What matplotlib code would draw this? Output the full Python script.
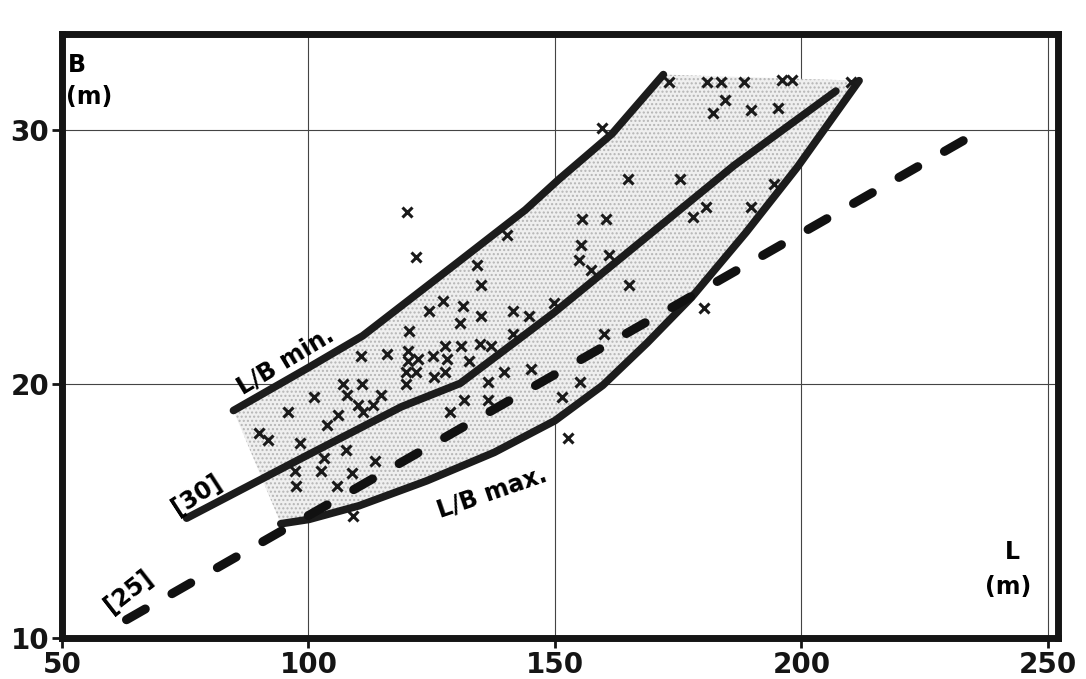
"""Ship length vs beam scatter with L/B bounds, redrawn from a scanned figure."""
import matplotlib
matplotlib.use("Agg")
import matplotlib.font_manager as fm
import matplotlib.pyplot as plt
import numpy as np

# pick a narrow bold face if the box has one, else DejaVu
_font = "DejaVu Sans"
_names = {f.name for f in fm.fontManager.ttflist}
for name in ["Liberation Sans Narrow", "DejaVu Sans"]:
    if name in _names:
        _font = name
        break
plt.rcParams["font.family"] = [_font, "DejaVu Sans"]
plt.rcParams["font.weight"] = "bold"

# ships (L, B) in metres
ship_L = [110.6, 116.0, 107.1, 110.8, 114.8, 107.9, 110.1, 113.1, 111.0, 101.2,
          106.1, 103.7, 95.8, 89.9, 91.9, 98.2, 107.7, 103.2, 113.6, 97.2,
          102.5, 108.8, 97.4, 105.7, 109.0, 120.1, 121.8, 140.2, 134.2, 135.1,
          127.4, 131.3, 124.5, 135.0, 130.7, 141.6, 144.7, 149.8, 120.4, 141.5,
          120.3, 120.3, 122.3, 125.2, 127.8, 128.2, 131.0, 132.6, 134.8, 137.1,
          119.8, 119.8, 121.9, 125.4, 127.7, 136.5, 139.7, 145.1, 136.4, 131.5,
          128.7, 159.9, 155.1, 151.5, 152.7, 157.3, 165.0, 180.2, 164.9, 175.4,
          155.4, 160.3, 155.3, 154.9, 160.9, 178.0, 180.7, 189.7, 194.4, 173.2,
          180.8, 183.6, 188.3, 196.1, 198.0, 210.1, 184.6, 182.1, 189.8, 195.2,
          159.6]
ship_B = [21.1, 21.2, 20.0, 20.0, 19.6, 19.6, 19.2, 19.2, 18.9, 19.5,
          18.8, 18.4, 18.9, 18.1, 17.8, 17.7, 17.4, 17.1, 17.0, 16.6,
          16.6, 16.5, 16.0, 16.0, 14.8, 26.8, 25.0, 25.9, 24.7, 23.9,
          23.3, 23.1, 22.9, 22.7, 22.4, 22.9, 22.7, 23.2, 22.1, 22.0,
          21.3, 20.9, 21.0, 21.1, 21.5, 21.0, 21.5, 20.9, 21.6, 21.5,
          20.5, 20.0, 20.5, 20.3, 20.5, 20.1, 20.5, 20.6, 19.4, 19.4,
          18.9, 22.0, 20.1, 19.5, 17.9, 24.5, 23.9, 23.0, 28.1, 28.1,
          26.5, 26.5, 25.5, 24.9, 25.1, 26.6, 27.0, 27.0, 27.9, 31.9,
          31.9, 31.9, 31.9, 32.0, 32.0, 31.9, 31.2, 30.7, 30.8, 30.9,
          30.1]

# L/B min. boundary
lbmin_L = [84.8, 100.1, 111.0, 129.6, 144.0, 150.9, 161.6, 172.0]
lbmin_B = [18.97, 20.67, 21.91, 24.70, 26.87, 28.09, 29.87, 32.20]

# [30] line
l30_L = [75.3, 99.7, 118.9, 130.8, 149.8, 186.4, 207.0]
l30_B = [14.73, 17.20, 19.12, 20.04, 22.82, 28.63, 31.55]

# L/B max. boundary
lbmax_L = [94.4, 100.1, 110.3, 124.0, 137.7, 150.0, 159.7, 168.7, 177.7, 188.8, 199.2, 211.7]
lbmax_B = [14.51, 14.68, 15.22, 16.20, 17.32, 18.57, 19.96, 21.63, 23.42, 25.99, 28.56, 31.96]

# [25] dashed line
l25_L = [63.1, 237.7]
l25_B = [10.73, 30.14]

x_ticks = [50, 100, 150, 200, 250]
y_ticks = [10, 20, 30]

fig = plt.figure(figsize=(10.86, 6.79), dpi=100)
ax = fig.add_axes([0.057, 0.060, 0.917, 0.890])
ax.set_xlim(50, 252)
ax.set_ylim(10, 33.8)

# stippled band between the two bounds
band_L = np.r_[lbmin_L, lbmax_L[::-1]]
band_B = np.r_[lbmin_B, lbmax_B[::-1]]
ax.fill(band_L, band_B, facecolor="#efefef", edgecolor="#b5b5b5", hatch="....",
        linewidth=0, zorder=1)

ax.set_xticks(x_ticks)
ax.set_yticks(y_ticks)
ax.grid(True, color="#444444", linewidth=0.8, zorder=0)
ax.set_axisbelow(True)

lw = 5.5
ax.plot(lbmin_L, lbmin_B, color="#1c1c1c", lw=lw, solid_capstyle="round", zorder=3)
ax.plot(l30_L, l30_B, color="#1c1c1c", lw=lw, solid_capstyle="round", zorder=3)
ax.plot(lbmax_L, lbmax_B, color="#1c1c1c", lw=lw, solid_capstyle="round", zorder=3)
ax.plot(l25_L, l25_B, color="#111111", lw=6.5, dashes=(2.4, 3.4),
        dash_capstyle="round", zorder=3)

ax.plot(ship_L, ship_B, "x", color="#1a1a1a", markersize=7.5, mew=2.2, zorder=4)

# curve labels
ax.text(95.4, 20.93, "L/B min.", rotation=31, rotation_mode="anchor",
        ha="center", va="center", fontsize=17, zorder=5)
ax.text(77.4, 15.66, "[30]", rotation=33, rotation_mode="anchor",
        ha="center", va="center", fontsize=17, zorder=5)
ax.text(63.5, 11.83, "[25]", rotation=38, rotation_mode="anchor",
        ha="center", va="center", fontsize=17, zorder=5)
ax.text(137.3, 15.76, "L/B max.", rotation=19, rotation_mode="anchor",
        ha="center", va="center", fontsize=17, zorder=5)

# axis names inside the frame
ax.text(0.006, 0.948, "B", transform=ax.transAxes, ha="left", va="center", fontsize=17)
ax.text(0.004, 0.895, "(m)", transform=ax.transAxes, ha="left", va="center", fontsize=17)
ax.text(0.954, 0.142, "L", transform=ax.transAxes, ha="center", va="center", fontsize=17)
ax.text(0.950, 0.084, "(m)", transform=ax.transAxes, ha="center", va="center", fontsize=17)

for s in ax.spines.values():
    s.set_linewidth(5)
    s.set_color("#151515")
ax.tick_params(axis="both", direction="out", length=7, width=2, labelsize=20,
               colors="#151515", pad=2)
for t in ax.get_xticklabels() + ax.get_yticklabels():
    t.set_fontweight("bold")

fig.savefig("out.png", dpi=100, facecolor="white")
